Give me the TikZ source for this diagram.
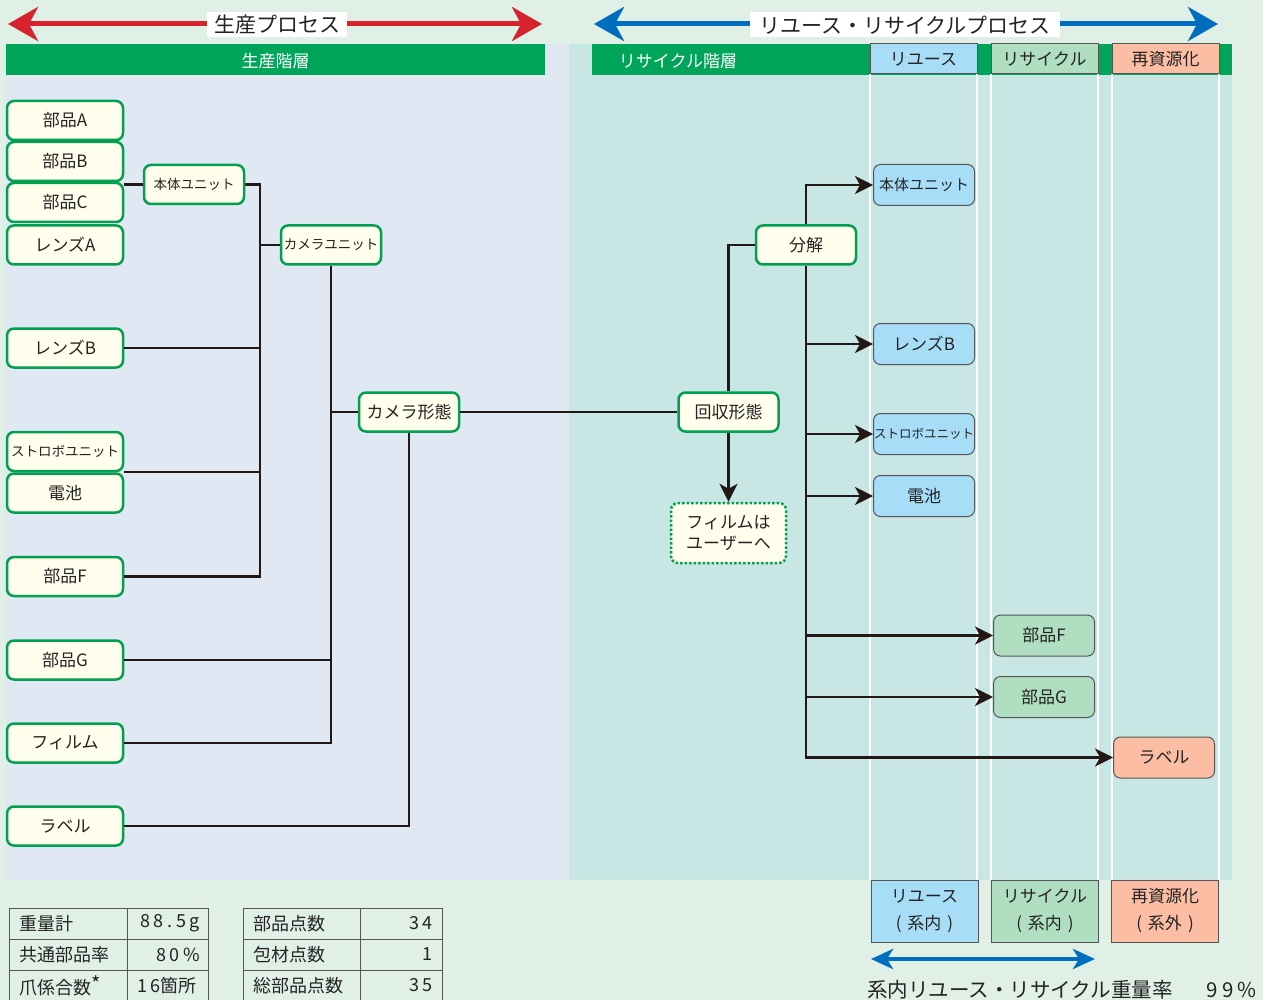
\documentclass[tikz,border=0pt]{standalone}
\usepackage{fontspec}
\setmainfont{Noto Sans CJK JP}
\newfontfamily\numfont[LetterSpace=20]{Noto Sans CJK JP}
\usetikzlibrary{arrows.meta,calc}
\definecolor{bgmint}{RGB}{224,240,230}
\definecolor{lav}{RGB}{224,232,244}
\definecolor{tealbg}{RGB}{200,230,228}
\definecolor{gbar}{RGB}{0,165,90}
\definecolor{ngreen}{RGB}{0,160,80}
\definecolor{cream}{RGB}{255,253,235}
\definecolor{rblue}{RGB}{168,221,248}
\definecolor{rgreen}{RGB}{176,222,192}
\definecolor{rsalmon}{RGB}{251,190,164}
\definecolor{redarr}{RGB}{215,35,45}
\definecolor{bluearr}{RGB}{0,110,190}
\definecolor{lnc}{RGB}{35,24,21}
\definecolor{txt}{RGB}{35,35,35}
\definecolor{edgegray}{RGB}{85,85,85}
\begin{document}
\begin{tikzpicture}[x=1pt,y=-1pt,
  lbox/.style={draw=ngreen, line width=2.5pt, fill=cream, rounded corners=7pt,
    minimum width=116, minimum height=39, inner sep=0pt, text=txt,
    font=\fontsize{17}{19}\selectfont},
  mbox/.style={lbox, minimum width=100},
  rbox/.style={draw=edgegray, line width=1pt, rounded corners=7pt,
    minimum width=101, minimum height=41, inner sep=0pt, text=txt,
    font=\fontsize{17}{19}\selectfont},
  hbox/.style={draw=edgegray, line width=1pt, minimum width=107, minimum height=30,
    inner sep=0pt, text=txt, font=\fontsize{17}{19}\selectfont},
  bbox/.style={draw=edgegray, line width=1pt, minimum width=107, minimum height=62,
    inner sep=0pt, text=txt, align=center, font=\fontsize{17}{27}\selectfont},
  conn/.style={draw=lnc, line width=2.2pt},
  arr/.style={conn, -{Stealth[length=18pt,width=18pt,inset=5pt]}},
  cell/.style={inner sep=0pt, text=txt, font=\fontsize{18}{20}\selectfont},
  tline/.style={draw=edgegray, line width=1pt}
]
\useasboundingbox (0,0) rectangle (1263,1000);
\fill[bgmint] (0,0) rectangle (1263,1000);
\fill[lav] (6,44) rectangle (569,880);
\fill[tealbg] (569,44) rectangle (1232,880);

% green bars
\fill[gbar] (6,44) rectangle (545,75);
\node[text=white, font=\fontsize{17}{18}\selectfont] (prodlayer) at (275.5,61) {生産階層};
\fill[gbar] (592,44) rectangle (1232,75);
\node[text=white, font=\fontsize{17}{18}\selectfont] (reclayer) at (678,61) {リサイクル階層};

% white column lines
\foreach \xx in {870,977,991,1098,1112,1219}
  \draw[white, line width=2pt] (\xx,74) -- (\xx,880);

% header boxes
\node[hbox, fill=rblue] (hReuse) at (923.5,59) {\raisebox{-1.5pt}{リユース}};
\node[hbox, fill=rgreen] (hRecycle) at (1044.5,59) {\raisebox{-1.5pt}{リサイクル}};
\node[hbox, fill=rsalmon] (hResource) at (1165.5,59) {\raisebox{-1.5pt}{再資源化}};

% top arrows
\coordinate (rL) at (8,24); \coordinate (rR) at (542,24);
\draw[redarr, line width=5pt, {Stealth[length=30pt,width=34pt,inset=9pt]}-{Stealth[length=30pt,width=34pt,inset=9pt]}] (rL) -- (rR);
\node[fill=white, minimum width=140, minimum height=25, inner sep=0pt, text=txt,
  font=\fontsize{21}{22}\selectfont] (prodproc) at (277,25) {生産プロセス};
\coordinate (bL) at (594,24); \coordinate (bR) at (1218,24);
\draw[bluearr, line width=5pt, {Stealth[length=30pt,width=34pt,inset=9pt]}-{Stealth[length=30pt,width=34pt,inset=9pt]}] (bL) -- (bR);
\node[fill=white, minimum width=310, minimum height=25, inner sep=0pt, text=txt,
  font=\fontsize{21}{22}\selectfont] (recproc) at (905,25) {リユース・リサイクルプロセス};

% left nodes
\node[lbox] (pA) at (65,120.5) {部品A};
\node[lbox] (pB) at (65,161.5) {部品B};
\node[lbox] (pC) at (65,202.5) {部品C};
\node[lbox] (lA) at (65,245) {レンズA};
\node[lbox] (lB) at (65,348) {レンズB};
\node[lbox, font=\fontsize{13.5}{15}\selectfont] (strobo) at (65,451.5) {ストロボユニット};
\node[lbox] (batt) at (65,493) {電池};
\node[lbox] (pF) at (65,576.5) {部品F};
\node[lbox] (pG) at (65,660) {部品G};
\node[lbox] (film) at (65,743) {フィルム};
\node[lbox] (label) at (65,826) {ラベル};

\node[mbox, font=\fontsize{13.5}{15}\selectfont] (hontai) at (194,184.5) {本体ユニット};
\node[mbox, font=\fontsize{13.5}{15}\selectfont] (camunit) at (331,245) {カメラユニット};
\node[mbox] (camera) at (409,412) {カメラ形態};
\node[mbox] (kaishu) at (728.5,412) {回収形態};
\node[mbox] (bunkai) at (806,245) {分解};
\node[lbox, dotted, minimum width=115, minimum height=60, align=center,
  font=\fontsize{17}{21}\selectfont] (filmU) at (728.5,533) {フィルムは\\ユーザーへ};

% right nodes
\node[rbox, fill=rblue, font=\fontsize{15}{17}\selectfont] (rHontai) at (924,185) {本体ユニット};
\node[rbox, fill=rblue] (rLensB) at (924,344) {レンズB};
\node[rbox, fill=rblue, font=\fontsize{12.5}{14}\selectfont] (rStrobo) at (924,434) {ストロボユニット};
\node[rbox, fill=rblue] (rBatt) at (924,496) {電池};
\node[rbox, fill=rgreen] (rF) at (1044,635.5) {部品F};
\node[rbox, fill=rgreen] (rG) at (1044,697) {部品G};
\node[rbox, fill=rsalmon] (rLabel) at (1164,757.5) {ラベル};

% production connectors
\coordinate (busA) at (260,0);
\draw[conn] (hontai.west) -- (hontai.west -| pB.east);
\draw[conn] (hontai.east) -- (hontai.east -| busA) |- (pF.east);
\draw[conn] (camunit.west) -- (camunit.west -| busA);
\draw[conn] (lB.east) -- (lB.east -| busA);
\draw[conn] (batt.north east) -- (batt.north east -| busA);
\draw[conn] (camunit.south) |- (film.east);
\draw[conn] (camera.west) -- (camera.west -| camunit.south);
\draw[conn] (pG.east) -- (pG.east -| camunit.south);
\draw[conn] (camera.south) |- (label.east);
\draw[conn] (camera.east) -- (kaishu.west);

% recycle connectors
\draw[conn] (kaishu.north) |- (bunkai.west);
\draw[arr] (kaishu.south) -- (filmU.north);
\draw[arr] (bunkai.north) |- (rHontai.west);
\draw[arr] (bunkai.south) |- (rLabel.west);
\draw[arr] (bunkai.south |- rLensB.west) -- (rLensB.west);
\draw[arr] (bunkai.south |- rStrobo.west) -- (rStrobo.west);
\draw[arr] (bunkai.south |- rBatt.west) -- (rBatt.west);
\draw[arr] (bunkai.south |- rF.west) -- (rF.west);
\draw[arr] (bunkai.south |- rG.west) -- (rG.west);

% bottom boxes
\node[bbox, fill=rblue] (bReuse) at (924.5,911) {リユース\\(\hspace{6pt}系内\hspace{6pt})};
\node[bbox, fill=rgreen] (bRecycle) at (1045,911) {リサイクル\\(\hspace{6pt}系内\hspace{6pt})};
\node[bbox, fill=rsalmon] (bResource) at (1165,911) {再資源化\\(\hspace{6pt}系外\hspace{6pt})};
\coordinate (aL) at (871,959); \coordinate (aR) at (1095,959);
\draw[bluearr, line width=4pt, {Stealth[length=22pt,width=20pt,inset=6pt]}-{Stealth[length=22pt,width=20pt,inset=6pt]}] (aL) -- (aR);
\node[anchor=west, inner sep=0pt, text=txt, font=\fontsize{20.5}{22}\selectfont] (rate) at (867,990)
  {系内リユース・リサイクル重量率\hspace{34pt}{\numfont 99\%}};

% tables
\draw[tline] (9,1003) -- (9,908) -- (208,908) -- (208,1003);
\draw[tline] (9,939) -- (208,939); \draw[tline] (9,970) -- (208,970);
\draw[tline] (127,908) -- (127,1003);
\draw[tline] (243,1003) -- (243,908) -- (442,908) -- (442,1003);
\draw[tline] (243,939) -- (442,939); \draw[tline] (243,970) -- (442,970);
\draw[tline] (360,908) -- (360,1003);

\node[cell, anchor=west] (t1a) at (19,923.5) {重量計};
\node[cell, anchor=west] (t1b) at (19,954.5) {共通部品率};
\node[cell, anchor=west] (t1c) at (19,985.5) {爪係合数\raisebox{3pt}{\fontsize{20}{20}\selectfont *}};
\node[cell, anchor=east] (v1a) at (200,923.5) {\numfont 88.5g};
\node[cell, anchor=east] (v1b) at (200,954.5) {\numfont 80\%};
\node[cell, anchor=east] (v1c) at (197,985.5) {{\numfont 16}箇所};
\node[cell, anchor=west] (t2a) at (253,923.5) {部品点数};
\node[cell, anchor=west] (t2b) at (253,954.5) {包材点数};
\node[cell, anchor=west] (t2c) at (253,985.5) {総部品点数};
\node[cell, anchor=east] (v2a) at (433,923.5) {\numfont 34};
\node[cell, anchor=east] (v2b) at (433,954.5) {\numfont 1};
\node[cell, anchor=east] (v2c) at (433,985.5) {\numfont 35};
\end{tikzpicture}
\end{document}
